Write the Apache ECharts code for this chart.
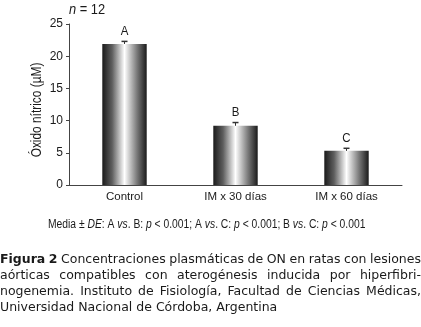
<!DOCTYPE html>
<html>
<head>
<meta charset="utf-8">
<script src="https://cdn.jsdelivr.net/npm/echarts@6/dist/echarts.min.js"></script>
<style>
  html, body { margin: 0; padding: 0; background: #fff; }
  #chart { width: 421px; height: 327px; }
</style>
</head>
<body>
<div id="chart"></div>
<script>
const categories = ['Control', 'IM x 30 días', 'IM x 60 días']
const means = [21.9, 9.2, 5.3]
const errors = [0.4, 0.5, 0.4]
const letters = ['A', 'B', 'C']
const yTicks = [0, 5, 10, 15, 20, 25]

// caption lines, last one is not justified
const captionLines = [
  '*Figura *2 Concentraciones plasmáticas de ON en ratas con lesiones',
  'aórticas compatibles con aterogénesis inducida por hiperfibri-',
  'nogenemia. Instituto de Fisiología, Facultad de Ciencias Médicas,',
  'Universidad Nacional de Córdoba, Argentina'
]

const narrow = '"Liberation Sans", Arial, sans-serif'
const captionFont = '"DejaVu Sans", sans-serif'

const chart = echarts.init(document.getElementById('chart'))

const barFill = new echarts.graphic.LinearGradient(0, 0, 1, 0, [
  { offset: 0, color: '#1a1a1a' },
  { offset: 0.22, color: '#5e5e5e' },
  { offset: 0.5, color: '#ffffff' },
  { offset: 0.78, color: '#7a7a7a' },
  { offset: 1, color: '#1a1a1a' }
])

// word-by-word justified caption
const measure = document.createElement('canvas').getContext('2d')
const captionGraphics = []
captionLines.forEach((line, k) => {
  const words = line.split(' ').map(w => {
    const bold = w.startsWith('*')
    const text = bold ? w.slice(1) : w
    const font = (bold ? 'bold ' : '') + '12.5px ' + captionFont
    measure.font = font
    return { text, font, w: measure.measureText(text).width }
  })
  measure.font = '12.5px ' + captionFont
  const space = measure.measureText(' ').width
  const total = words.reduce((s, w) => s + w.w, 0)
  const last = k === captionLines.length - 1
  const gap = last ? space : (421 - total) / (words.length - 1)
  let x = 0
  words.forEach(w => {
    captionGraphics.push({
      type: 'text', x, y: 253 + k * 16,
      style: { text: w.text, font: w.font, fill: '#1a1a1a' }
    })
    x += w.w + gap
  })
})

const italic = size => ({ fontStyle: 'italic', fontFamily: narrow, fontSize: size, fill: '#1a1a1a' })
const plain = size => ({ fontFamily: narrow, fontSize: size, fill: '#1a1a1a' })

const option = {
  animation: false,
  grid: { left: 69, right: 19, top: 24, bottom: 142 },
  xAxis: {
    type: 'category',
    data: categories,
    axisLine: { lineStyle: { color: '#444', width: 1 } },
    axisTick: { show: false },
    axisLabel: { color: '#1a1a1a', fontFamily: narrow, fontSize: 11.5, margin: 6 }
  },
  yAxis: {
    type: 'value',
    min: yTicks[0],
    max: yTicks[yTicks.length - 1],
    interval: 5,
    axisLine: { show: true, lineStyle: { color: '#444', width: 1 } },
    axisTick: { show: true, length: 3, lineStyle: { color: '#444' } },
    axisLabel: { color: '#1a1a1a', fontFamily: narrow, fontSize: 12, margin: 6 },
    splitLine: { show: false }
  },
  series: [
    {
      type: 'bar',
      data: means,
      barWidth: '40%',
      itemStyle: { color: barFill }
    },
    {
      type: 'custom',
      data: means.map((m, i) => [i, m, errors[i]]),
      z: 5,
      renderItem: (params, api) => {
        const i = api.value(0)
        const base = api.coord([i, api.value(1)])
        const top = api.coord([i, api.value(1) + api.value(2)])
        return {
          type: 'group',
          children: [
            { type: 'line', shape: { x1: base[0], y1: base[1], x2: top[0], y2: top[1] }, style: { stroke: '#333', lineWidth: 1 } },
            { type: 'line', shape: { x1: top[0] - 3, y1: top[1], x2: top[0] + 3, y2: top[1] }, style: { stroke: '#333', lineWidth: 1.5 } },
            {
              type: 'text',
              x: top[0],
              y: top[1] - 3,
              scaleX: 0.85,
              style: { text: letters[i], fill: '#1a1a1a', font: '13.5px ' + narrow, align: 'center', verticalAlign: 'bottom' }
            }
          ]
        }
      }
    }
  ],
  graphic: [
    {
      type: 'text', x: 37, y: 110, rotation: Math.PI / 2, scaleX: 0.82,
      style: { text: 'Óxido nítrico (µM)', font: '14.5px ' + narrow, fill: '#1a1a1a', align: 'center', verticalAlign: 'middle' }
    },
    {
      type: 'text', x: 69, y: 3, scaleX: 0.92,
      style: Object.assign({ text: '{i|n} = 12', rich: { i: italic(14) } }, plain(14))
    },
    {
      type: 'text', x: 48, y: 219, scaleX: 0.86,
      style: Object.assign({
        text: 'Media ± {i|DE}: A {i|vs}. B: {i|p} < 0.001; A {i|vs}. C: {i|p} < 0.001; B {i|vs}. C: {i|p} < 0.001',
        rich: { i: italic(12) }
      }, plain(12))
    },
    ...captionGraphics
  ]
}

chart.setOption(option)
</script>
</body>
</html>
